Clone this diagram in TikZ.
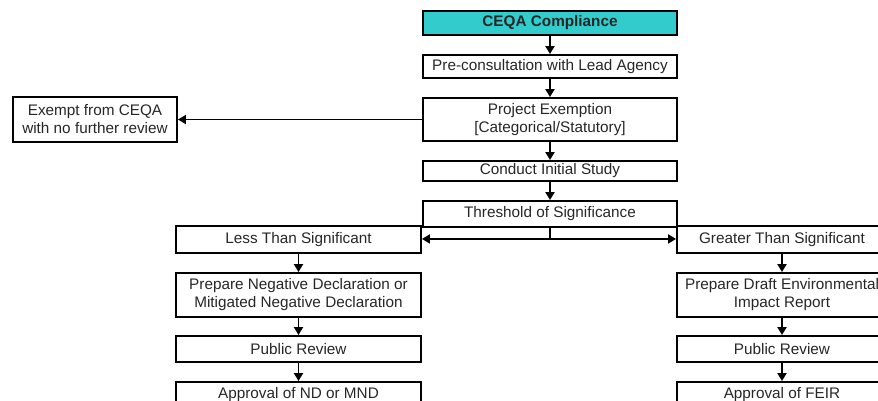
\documentclass[tikz,border=0pt]{standalone}
\usepackage{fontspec}
\setmainfont{Liberation Sans}
\usepackage{xcolor}
\usetikzlibrary{positioning, arrows.meta, calc}

\definecolor{ceqateal}{RGB}{51,204,204}

\begin{document}
\begin{tikzpicture}[x=1pt, y=-1pt,
    box/.style={draw, line width=1.9pt, inner sep=0pt, align=center,
      text=black!85, font=\fontsize{15.3}{18}\selectfont},
    wide/.style={box, minimum width=254pt},
    col/.style={box, minimum width=245pt},
    arr/.style={line width=1.9pt, -{Triangle[length=8pt, width=9pt]}}]
          \useasboundingbox (0,0) rectangle (878,400);

          % Centre column
          \node[wide, fill=ceqateal, minimum height=24pt, font=\fontsize{15.3}{18}\selectfont\bfseries] (ceqa) at (550,23) {CEQA Compliance};
          \node[wide, minimum height=23pt] (pre) at (550,66.5) {Pre-consultation with Lead Agency};
          \node[wide, minimum height=43pt] (proj) at (550,119.5) {Project Exemption\\{}[Categorical/Statutory]};
          \node[wide, minimum height=20pt] (study) at (550,171) {Conduct Initial Study};
          \node[wide, minimum height=26pt] (thresh) at (550,214) {Threshold of Significance};
          \draw[arr] (ceqa) -- (pre);
          \draw[arr] (pre) -- (proj);
          \draw[arr] (proj) -- (study);
          \draw[arr] (study) -- (thresh);

          % Exempt
          \node[box, minimum width=164pt, minimum height=45pt] (exempt) at (95,119.5) {Exempt from CEQA\\with no further review};
          \draw[arr] (proj) -- (exempt);

          % Less than significant
          \node[col, minimum height=27pt] (less) at (298.5,239.5) {Less Than Significant};
          \node[col, minimum height=44pt] (negdec) at (298.5,295) {Prepare Negative Declaration or\\Mitigated Negative Declaration};
          \node[col, minimum height=26pt] (revl) at (298.5,349) {Public Review};
          \node[col, minimum height=26pt] (mnd) at (298.5,395) {Approval of ND or MND};
          \draw[arr] (less) -- (negdec);
          \draw[arr] (negdec) -- (revl);
          \draw[arr] (revl) -- (mnd);

          % Greater than significant
          \node[box, minimum width=210pt, minimum height=27pt] (greater) at (782,239.5) {Greater Than Significant};
          \node[box, minimum width=210pt, minimum height=44pt] (draft) at (782,295) {Prepare Draft Environmental\\Impact Report};
          \node[box, minimum width=210pt, minimum height=26pt] (revr) at (782,349) {Public Review};
          \node[box, minimum width=210pt, minimum height=26pt] (feir) at (782,395) {Approval of FEIR};
          \draw[arr] (greater) -- (draft);
          \draw[arr] (draft) -- (revr);
          \draw[arr] (revr) -- (feir);

          % Fork
          \draw[line width=1.9pt] (thresh.south) -- ++(0,11) coordinate (fork);
          \draw[arr] (fork) -- (fork -| less.east);
          \draw[arr] (fork) -- (fork -| greater.west);
        \end{tikzpicture}
\end{document}
